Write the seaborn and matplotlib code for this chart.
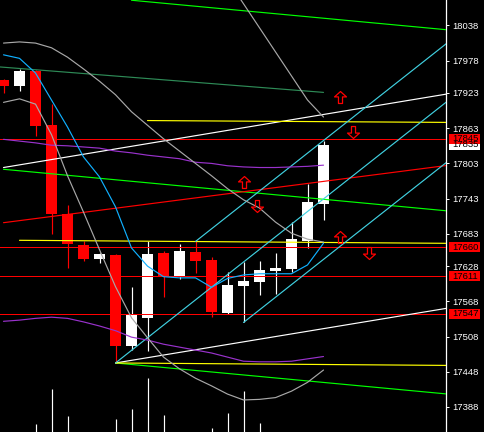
import numpy as np
import pandas as pd
import matplotlib
matplotlib.use("Agg")
import matplotlib.pyplot as plt
import matplotlib.transforms as mtransforms
from matplotlib.path import Path
from matplotlib.patches import Rectangle
import seaborn as sns

# ---------------- data ----------------
bars = list(range(21))
opens = [17945, 17935, 17960, 17868, 17716, 17664, 17640, 17647, 17492, 17540, 17650,
         17610, 17652, 17638, 17548, 17594, 17601, 17620, 17623, 17671, 17734]
closes = [17935, 17960, 17867, 17716, 17665, 17640, 17649, 17492, 17544, 17649, 17612,
          17654, 17637, 17550, 17596, 17603, 17621, 17625, 17674, 17737, 17835]
highs = [17947, 17964, 17962, 17905, 17732, 17671, 17650, 17649, 17593, 17670, 17653,
         17666, 17670, 17644, 17618, 17635, 17637, 17650, 17703, 17768, 17841]
lows = [17923, 17927, 17849, 17682, 17625, 17636, 17634, 17463, 17485, 17484, 17576,
        17606, 17617, 17542, 17546, 17532, 17579, 17581, 17618, 17659, 17707]
volumes = [0, 0, 8, 43, 16, 0, 0, 13, 23, 54, 17, 0, 0, 4, 19, 41, 9, 0, 0, 0, 0]

ma_fast = [17988, 17982, 17957, 17911, 17865, 17814, 17780, 17729, 17659, 17628, 17610,
           17608, 17608, 17592, 17607, 17613, 17615, 17615, 17615, 17630, 17667]
band_upper = [17844, 17841, 17838, 17834, 17833, 17831, 17829, 17824, 17821, 17817, 17814,
              17811, 17805, 17803, 17799, 17797, 17796, 17796, 17797, 17798, 17800]
band_lower = [17534, 17536, 17539, 17541, 17539, 17533, 17526, 17518, 17507, 17502, 17495,
              17490, 17485, 17480, 17473, 17466, 17465, 17465, 17466, 17470, 17474]
gray_mid = [18008, 18010, 18008, 18000, 17984, 17964, 17943, 17920, 17891, 17868, 17845,
            17824, 17803, 17782, 17760, 17741, 17727, 17703, 17684, 17674, 17669]
gray_low = [17907, 17913, 17904, 17852, 17782, 17720, 17656, 17593, 17540, 17506, 17473,
            17453, 17437, 17424, 17410, 17400, 17401, 17404, 17415, 17430, 17451]
gray_steep_bars = [14, 15, 16, 17, 18, 19, 20]
gray_steep = [18116, 18075, 18034, 17993, 17952, 17911, 17882]
regress_bars = [-1, 20]
regress_vals = [17969, 17924]

# trend rays: (bar0, price0, bar1, price1, colour), extended to the right edge
rays = [
    (8, 18081, 27, 18032.5, "#00FF00"),
    (0, 17793, 27, 17724, "#00FF00"),
    (7, 17463, 27, 17412, "#00FF00"),
    (0, 17796, 27, 17918, "white"),
    (7, 17463, 27, 17553, "white"),
    (0, 17702, 27, 17797, "#FF0000"),
    (9, 17876, 27, 17873, "#FFFF00"),
    (1, 17672, 27, 17667, "#FFFF00"),
    (7, 17463, 27, 17459, "#FFFF00"),
    (12, 17670, 27, 17992.5, "#40D0E0"),
    (7, 17463, 27, 17893, "#40D0E0"),
    (15, 17532, 27, 17790, "#40D0E0"),
]
hlines = [17845, 17660, 17611, 17547]
current_price = 17835

up_arrow_bars = [21, 15, 21]
up_arrow_prices = [17916, 17771, 17677]
down_arrow_bars = [21.85, 15.85, 22.85]
down_arrow_prices = [17857, 17730, 17651]

tick_vals = [18038, 17978, 17923, 17863, 17803, 17743, 17683, 17628, 17568, 17508, 17448, 17388]

# ---------------- style ----------------
sns.set_theme(style="white")
plt.rcParams["font.family"] = ["Liberation Sans", "DejaVu Sans"]

W, H = 485, 432
AX_W = 446
fig = plt.figure(figsize=(W / 100, H / 100), dpi=100, facecolor="black")
ax = fig.add_axes([0, 0, AX_W / W, 1])
ax2 = ax.twinx()
ax2.set_facecolor("black")
ax.set_zorder(ax2.get_zorder() + 1)
ax.patch.set_visible(False)

XMIN, XMAX = -0.21875, 27.656
YMIN, YMAX = 17345.4, 18081.4
LW = 0.85

# volumes
ax2.vlines(bars, 0, volumes, colors="white", lw=LW)
ax2.set_ylim(0, 432)
ax2.set_yticks([])
for s in ax2.spines.values():
    s.set_visible(False)

# candles
df = pd.DataFrame(dict(bar=bars, open=opens, close=closes, high=highs, low=lows))
col = np.where(df.close >= df.open, "white", "#FF0000")
ax.vlines(df.bar, df.low, df.high, colors=col, lw=LW, zorder=3)
ax.bar(df.bar, (df.close - df.open).abs().clip(lower=0.8), bottom=df[["open", "close"]].min(axis=1),
       width=0.67, color=col, lw=0, zorder=3)

# horizontal lines
for p in hlines:
    ax.axhline(p, color="#FF0000", lw=0.72, antialiased=False, zorder=4)

# rays
for b0, p0, b1, p1, c in rays:
    slope = (p1 - p0) / (b1 - b0)
    ax.plot([b0, XMAX + 1], [p0, p0 + slope * (XMAX + 1 - b0)], color=c, lw=LW, zorder=4)

# indicator curves
kw = dict(ax=ax, lw=LW, zorder=4)
sns.lineplot(x=regress_bars, y=regress_vals, color="#2E8B57", **kw)
sns.lineplot(x=bars, y=band_upper, color="#9932CC", **kw)
sns.lineplot(x=bars, y=band_lower, color="#9932CC", **kw)
sns.lineplot(x=bars, y=gray_mid, color="#A8A8A8", **kw)
sns.lineplot(x=bars, y=gray_low, color="#A8A8A8", **kw)
sns.lineplot(x=gray_steep_bars, y=gray_steep, color="#A8A8A8", **kw)
sns.lineplot(x=bars, y=ma_fast, color="#10B0FF", **kw)

# arrows
verts = [(0, 0.5), (0.5, 0.05), (0.17, 0.05), (0.17, -0.5), (-0.17, -0.5), (-0.17, 0.05), (-0.5, 0.05), (0, 0.5)]
codes = [Path.MOVETO] + [Path.LINETO] * 6 + [Path.CLOSEPOLY]
up_path = Path(verts, codes)
down_path = Path([(x, -y) for x, y in verts], codes)
ax.plot(up_arrow_bars, up_arrow_prices, ls="none", marker=up_path, ms=8.6,
        mfc="none", mec="#FF0000", mew=0.9, zorder=6)
ax.plot(down_arrow_bars, down_arrow_prices, ls="none", marker=down_path, ms=8.6,
        mfc="none", mec="#FF0000", mew=0.9, zorder=6)

# axes
ax.set_xlim(XMIN, XMAX)
ax.set_ylim(YMIN, YMAX)
ax.set_xlabel("")
ax.set_ylabel("")
ax.set_xticks([])
ax.yaxis.tick_right()
ax.set_yticks(tick_vals)
ax.set_yticklabels([str(v) for v in tick_vals])
ax.tick_params(axis="y", colors="white", labelsize=6.8, length=2.2, width=0.7,
               direction="out", pad=2.2, right=True, left=False)
for side in ["left", "top", "bottom"]:
    ax.spines[side].set_visible(False)
ax.spines["right"].set_color("white")
ax.spines["right"].set_linewidth(0.9)
ax.grid(False)

# price boxes
trans = mtransforms.blended_transform_factory(ax.transAxes, ax.transData)
box_h = 10 * (YMAX - YMIN) / H
bx0 = 449 / AX_W
bw = 31 / AX_W
tx = 452 / AX_W
def price_box(p, fc):
    ax.add_patch(Rectangle((bx0, p - box_h / 2), bw, box_h, transform=trans,
                           facecolor=fc, edgecolor="none", clip_on=False, zorder=10))
    ax.text(tx, p, str(p), transform=trans, color="black", fontsize=6.8,
            va="center", ha="left", clip_on=False, zorder=11)

price_box(current_price, "white")
for p in hlines:
    price_box(p, "#FF0000")

fig.savefig("out.png", dpi=100, facecolor="black")
